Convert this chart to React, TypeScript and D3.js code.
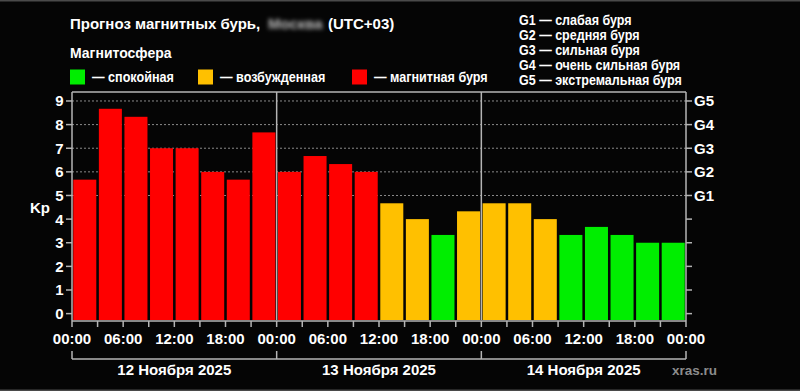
import React from 'react';
import * as d3 from 'd3';

// Kp forecast, 3-hour intervals, 12-14 Nov 2025
const kpValues = [5.67, 8.67, 8.33, 7, 7, 6, 5.67, 7.67, 6, 6.67, 6.33, 6, 4.67, 4, 3.33, 4.33, 4.67, 4.67, 4, 3.33, 3.67, 3.33, 3, 3];
const dayLabels = ['12 Ноября 2025', '13 Ноября 2025', '14 Ноября 2025'];
const yTicks = [0, 1, 2, 3, 4, 5, 6, 7, 8, 9];
const gLevels = ['G1', 'G2', 'G3', 'G4', 'G5'];
const gDescriptions = ['слабая буря', 'средняя буря', 'сильная буря', 'очень сильная буря', 'экстремальная буря'];
const legendItems = ['спокойная', 'возбужденная', 'магнитная буря'];

const W = 800;
const H = 391;
const left = 72;
const right = 686;
const top = 92;
const bottom = 320;

const font = '"Liberation Sans", Arial, sans-serif';
const axisColor = '#b4b4b4';
const colors = ['#00ee00', '#ffc000', '#ff0000'];

const start = new Date(Date.UTC(2025, 10, 12));
const end = new Date(Date.UTC(2025, 10, 15));

const App = () => {
  const y = d3.scaleLinear().domain([-0.27, 9.38]).range([bottom, top]);
  const x = d3.scaleBand<number>()
    .domain(kpValues.map((_, i) => i))
    .range([left, right])
    .paddingInner(0.1)
    .paddingOuter(0.05);
  const t = d3.scaleUtc().domain([start, end]).range([left, right]);
  const level = d3.scaleThreshold<number, string>().domain([4, 5]).range(colors);

  const ticks3h = t.ticks(d3.utcHour.every(3)!);
  const days = t.ticks(d3.utcDay.every(1)!);
  const fmt = d3.utcFormat('%H:%M');

  const legendX = [70, 198, 352];

  return (
    <svg width={W} height={H} style={{ position: 'absolute', left: 0, top: 0, background: '#050505' }} fontFamily={font} fontWeight="bold">
      <defs>
        <filter id="blur" x="-20%" y="-50%" width="140%" height="200%">
          <feGaussianBlur stdDeviation="2.2" />
        </filter>
      </defs>
      <rect x={0} y={0} width={W} height={H} fill="#050505" />
      <rect x={0} y={0} width={W} height={1.5} fill="#4a4a4a" />
      <rect x={0} y={389.5} width={W} height={1.5} fill="#4a4a4a" />

      {/* title */}
      <text x={70} y={29} fill="#fff" fontSize={15}>Прогноз магнитных бурь,</text>
      <text x={268} y={29} fill="#bbb" fontSize={15} filter="url(#blur)">Москва</text>
      <text x={328} y={29} fill="#fff" fontSize={15}>(UTC+03)</text>

      <text x={70} y={58} fill="#fff" fontSize={14}>Магнитосфера</text>
      {legendItems.map((d, i) => (
        <g key={d}>
          <rect x={legendX[i]} y={69.5} width={15} height={15} fill={colors[i]} />
          <text transform={`translate(${legendX[i] + 22},82) scale(0.9,1)`} fill="#fff" fontSize={14}>— {d}</text>
        </g>
      ))}

      {gLevels.map((g, i) => (
        <text key={g} transform={`translate(519,${25 + i * 15}) scale(0.895,1)`} fill="#fff" fontSize={14}>{g} — {gDescriptions[i]}</text>
      ))}

      {/* grid at storm levels */}
      {gLevels.map((g, i) => (
        <line key={g} x1={left} x2={right} y1={y(5 + i)} y2={y(5 + i)} stroke="#8a8a8a" strokeDasharray="2,2" strokeWidth={1} />
      ))}

      {/* bars */}
      {kpValues.map((v, i) => (
        <rect key={i} x={x(i)} y={y(v)} width={x.bandwidth()} height={bottom - y(v)} fill={level(v)} />
      ))}

      {/* frame */}
      <line x1={left} x2={right} y1={top} y2={top} stroke={axisColor} strokeWidth={1.5} />
      <line x1={left} x2={left} y1={top} y2={bottom + 1} stroke={axisColor} strokeWidth={1.5} />
      <line x1={right} x2={right} y1={top} y2={bottom + 1} stroke={axisColor} strokeWidth={1.5} />
      <line x1={left} x2={right} y1={bottom + 1} y2={bottom + 1} stroke={axisColor} strokeWidth={1.5} />
      {days.slice(1, -1).map(d => (
        <line key={+d} x1={t(d)} x2={t(d)} y1={top} y2={bottom} stroke={axisColor} strokeWidth={1.5} />
      ))}

      {/* left axis */}
      {yTicks.map(v => (
        <g key={v}>
          <line x1={left - 6} x2={left} y1={y(v)} y2={y(v)} stroke={axisColor} strokeWidth={1.5} />
          <text x={63.5} y={y(v)} dy="0.36em" textAnchor="end" fill="#fff" fontSize={15}>{v}</text>
        </g>
      ))}
      <text x={30} y={208} dy="0.36em" fill="#fff" fontSize={15}>Kp</text>

      {/* right axis */}
      {yTicks.map(v => (
        <line key={v} x1={right} x2={right + 6} y1={y(v)} y2={y(v)} stroke={axisColor} strokeWidth={1.5} />
      ))}
      {gLevels.map((g, i) => (
        <text key={g} x={694} y={y(5 + i)} dy="0.36em" fill="#fff" fontSize={15}>{g}</text>
      ))}

      {/* bottom axis */}
      {ticks3h.map(d => (
        <line key={+d} x1={t(d)} x2={t(d)} y1={bottom + 1} y2={bottom + 7} stroke={axisColor} strokeWidth={1.5} />
      ))}
      {ticks3h.filter(d => d.getUTCHours() % 6 === 0).map(d => (
        <text key={+d} x={t(d)} y={344} textAnchor="middle" fill="#fff" fontSize={15}>{fmt(d)}</text>
      ))}

      {/* day brackets */}
      <line x1={left} x2={right} y1={359} y2={359} stroke={axisColor} strokeWidth={1.5} />
      {days.map(d => (
        <line key={+d} x1={t(d)} x2={t(d)} y1={351} y2={359} stroke={axisColor} strokeWidth={1.5} />
      ))}
      {dayLabels.map((label, i) => (
        <text key={label} x={(t(days[i]) + t(days[i + 1])) / 2} y={375} textAnchor="middle" fill="#fff" fontSize={15}>{label}</text>
      ))}
      <text x={672} y={375} fill="#8c8c8c" fontSize={13.5}>xras.ru</text>
    </svg>
  );
};

export default App;
